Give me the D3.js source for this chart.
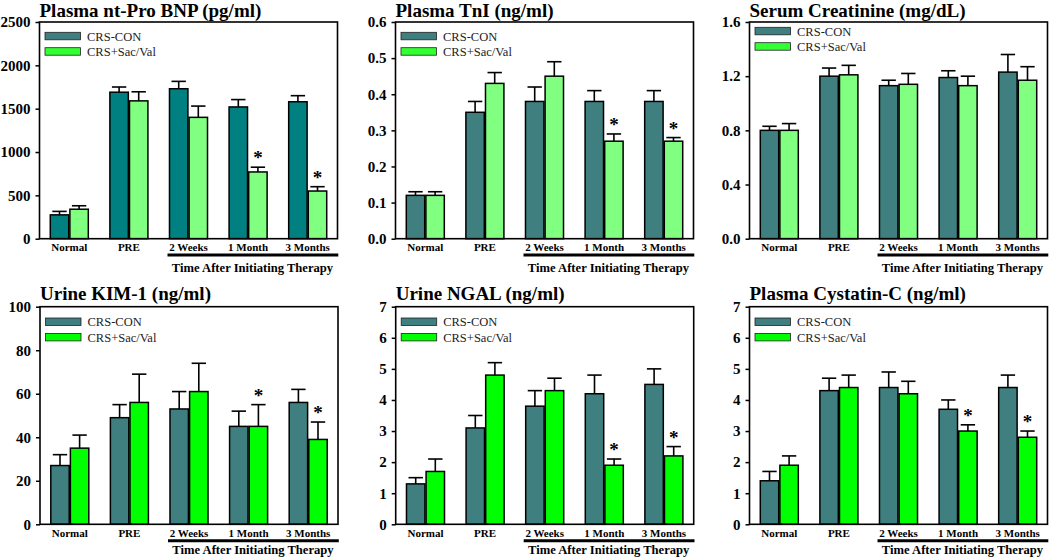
<!DOCTYPE html>
<html><head><meta charset="utf-8">
<script src="https://cdn.jsdelivr.net/npm/d3@7"></script>
<style>body{margin:0;background:#fff}svg{display:block}</style>
</head><body><svg id="chart" width="1050" height="559"></svg>
<script>
// ---------- data ----------
const categories = ["Normal", "PRE", "2 Weeks", "1 Month", "3 Months"];
const seriesNames = ["CRS-CON", "CRS+Sac/Val"];
const therapyLabel = "Time After Initiating Therapy";

const bnpCon = [275, 1690, 1730, 1520, 1580];
const bnpConErr = [40, 60, 85, 85, 70];
const bnpSac = [340, 1590, 1400, 770, 550];
const bnpSacErr = [40, 105, 130, 55, 50];
const bnpSig = [0, 0, 0, 1, 1];
const bnpTicks = [0, 500, 1000, 1500, 2000, 2500];

const tniCon = [0.12, 0.35, 0.38, 0.38, 0.38];
const tniConErr = [0.01, 0.03, 0.04, 0.03, 0.03];
const tniSac = [0.12, 0.43, 0.45, 0.27, 0.27];
const tniSacErr = [0.01, 0.03, 0.04, 0.02, 0.01];
const tniSig = [0, 0, 0, 1, 1];
const tniTicks = [0.0, 0.1, 0.2, 0.3, 0.4, 0.5, 0.6];

const creCon = [0.80, 1.20, 1.13, 1.19, 1.23];
const creConErr = [0.03, 0.06, 0.04, 0.05, 0.13];
const creSac = [0.80, 1.21, 1.14, 1.13, 1.17];
const creSacErr = [0.05, 0.07, 0.08, 0.07, 0.10];
const creSig = [0, 0, 0, 0, 0];
const creTicks = [0.0, 0.4, 0.8, 1.2, 1.6];

const kimCon = [27, 49, 53, 45, 56];
const kimConErr = [5, 6, 8, 7, 6];
const kimSac = [35, 56, 61, 45, 39];
const kimSacErr = [6, 13, 13, 10, 8];
const kimSig = [0, 0, 0, 1, 1];
const kimTicks = [0, 20, 40, 60, 80, 100];

const ngalCon = [1.3, 3.1, 3.8, 4.2, 4.5];
const ngalConErr = [0.2, 0.4, 0.5, 0.6, 0.5];
const ngalSac = [1.7, 4.8, 4.3, 1.9, 2.2];
const ngalSacErr = [0.4, 0.4, 0.4, 0.2, 0.3];
const ngalSig = [0, 0, 0, 1, 1];
const ngalTicks = [0, 1, 2, 3, 4, 5, 6, 7];

const cysCon = [1.4, 4.3, 4.4, 3.7, 4.4];
const cysConErr = [0.3, 0.4, 0.5, 0.3, 0.4];
const cysSac = [1.9, 4.4, 4.2, 3.0, 2.8];
const cysSacErr = [0.3, 0.4, 0.4, 0.2, 0.2];
const cysSig = [0, 0, 0, 1, 1];
const cysTicks = [0, 1, 2, 3, 4, 5, 6, 7];

const titles = ["Plasma nt-Pro BNP (pg/ml)", "Plasma TnI (ng/ml)", "Serum Creatinine (mg/dL)",
                "Urine KIM-1 (ng/ml)", "Urine NGAL (ng/ml)", "Plasma Cystatin-C (ng/ml)"];

// ---------- panel setup ----------
const FONT = "'Liberation Serif','Times New Roman',Times,serif";
const panels = [
  {title: titles[0], con: bnpCon, conErr: bnpConErr, sac: bnpSac, sacErr: bnpSacErr, sig: bnpSig, ticks: bnpTicks, fmt: d3.format("d"),
   x: 39.5, y: 22, h: 216.7, conColor: "#008080", conLeg: "#3f7f7f", sacColor: "#80ff80", sacLeg: "#33ff33", legDy: 0, tDy: 33},
  {title: titles[1], con: tniCon, conErr: tniConErr, sac: tniSac, sacErr: tniSacErr, sig: tniSig, ticks: tniTicks, fmt: d3.format(".1f"),
   x: 395.5, y: 22, h: 216.7, conColor: "#3f7f7f", conLeg: "#3f7f7f", sacColor: "#80ff80", sacLeg: "#33ff33", legDy: 0, tDy: 33},
  {title: titles[2], con: creCon, conErr: creConErr, sac: creSac, sacErr: creSacErr, sig: creSig, ticks: creTicks, fmt: d3.format(".1f"),
   x: 749.5, y: 22, h: 216.7, conColor: "#3f7f7f", conLeg: "#3f7f7f", sacColor: "#80ff80", sacLeg: "#33ff33", legDy: -5, tDy: 33},
  {title: titles[3], con: kimCon, conErr: kimConErr, sac: kimSac, sacErr: kimSacErr, sig: kimSig, ticks: kimTicks, fmt: d3.format("d"),
   x: 40, y: 306.7, h: 217.6, conColor: "#3f7f7f", conLeg: "#3f7f7f", sacColor: "#00ff00", sacLeg: "#00ff00", legDy: 1, tDy: 30.2},
  {title: titles[4], con: ngalCon, conErr: ngalConErr, sac: ngalSac, sacErr: ngalSacErr, sig: ngalSig, ticks: ngalTicks, fmt: d3.format("d"),
   x: 395.7, y: 306.7, h: 217.6, conColor: "#3f7f7f", conLeg: "#3f7f7f", sacColor: "#00ff00", sacLeg: "#00ff00", legDy: 1, tDy: 30.2},
  {title: titles[5], con: cysCon, conErr: cysConErr, sac: cysSac, sacErr: cysSacErr, sig: cysSig, ticks: cysTicks, fmt: d3.format("d"),
   x: 749.5, y: 306.7, h: 217.6, conColor: "#3f7f7f", conLeg: "#3f7f7f", sacColor: "#00ff00", sacLeg: "#00ff00", legDy: 1, tDy: 30.2}
];
const W = 298;

const svg = d3.select("#chart");

panels.forEach(p => {
  const g = svg.append("g").attr("transform", `translate(${p.x},${p.y})`);
  const h = p.h;
  const y = d3.scaleLinear().domain([0, d3.max(p.ticks)]).range([h, 0]);
  const x0 = d3.scaleBand().domain(categories).range([0, W]).paddingInner(0.362).paddingOuter(0.181);
  const x1 = d3.scaleBand().domain([0, 1]).range([0, x0.bandwidth()]).paddingInner(0.06);

  const rows = categories.map((c, i) => ({
    cat: c,
    vals: [
      {s: 0, v: p.con[i], e: p.conErr[i], sig: 0, color: p.conColor},
      {s: 1, v: p.sac[i], e: p.sacErr[i], sig: p.sig[i], color: p.sacColor}
    ]
  }));

  const grp = g.selectAll("g.grp").data(rows).join("g")
    .attr("class", "grp")
    .attr("transform", d => `translate(${x0(d.cat)},0)`);

  const bw = x1.bandwidth();
  const capW = bw * 0.78;

  grp.selectAll("line.err").data(d => d.vals).join("line")
    .attr("x1", d => x1(d.s) + bw / 2).attr("x2", d => x1(d.s) + bw / 2)
    .attr("y1", d => y(d.v)).attr("y2", d => y(d.v + d.e))
    .attr("stroke", "#000").attr("stroke-width", 1.6);
  grp.selectAll("line.cap").data(d => d.vals).join("line")
    .attr("x1", d => x1(d.s) + bw / 2 - capW / 2).attr("x2", d => x1(d.s) + bw / 2 + capW / 2)
    .attr("y1", d => y(d.v + d.e)).attr("y2", d => y(d.v + d.e))
    .attr("stroke", "#000").attr("stroke-width", 1.6);

  grp.selectAll("rect").data(d => d.vals).join("rect")
    .attr("x", d => x1(d.s)).attr("width", bw)
    .attr("y", d => y(d.v)).attr("height", d => h - y(d.v))
    .attr("fill", d => d.color).attr("stroke", "#000").attr("stroke-width", 1.5);

  grp.selectAll("text.sig").data(d => d.vals.filter(v => v.sig)).join("text")
    .attr("class", "sig")
    .attr("x", d => x1(d.s) + bw / 2)
    .attr("y", d => y(d.v + d.e) - 3)
    .attr("text-anchor", "middle")
    .style("font", `bold 19px ${FONT}`)
    .text("*");

  g.append("rect").attr("x", 0).attr("y", 0).attr("width", W).attr("height", h)
    .attr("fill", "none").attr("stroke", "#000").attr("stroke-width", 1.6);

  const ya = g.append("g").call(d3.axisLeft(y).tickValues(p.ticks).tickFormat(p.fmt).tickSize(4).tickPadding(5));
  ya.select(".domain").remove();
  ya.selectAll(".tick line").attr("stroke", "#000").attr("stroke-width", 1.5);
  ya.selectAll("text").style("font", `bold 15px ${FONT}`).attr("fill", "#000");

  const xa = g.append("g").attr("transform", `translate(0,${h})`)
    .call(d3.axisBottom(x0).tickSize(0).tickPadding(4.5));
  xa.select(".domain").remove();
  xa.selectAll("text").style("font", `bold 11px ${FONT}`).attr("fill", "#000");

  const lx0 = x0("2 Weeks") + x0.bandwidth() / 2 - 21;
  g.append("line").attr("x1", lx0).attr("x2", W + 0.8).attr("y1", h + 16.4).attr("y2", h + 16.4)
    .attr("stroke", "#000").attr("stroke-width", 3);
  g.append("text").attr("x", (lx0 + W) / 2).attr("y", h + p.tDy)
    .attr("text-anchor", "middle").style("font", `bold 12.6px ${FONT}`).text(therapyLabel);

  const leg = g.append("g").attr("transform", `translate(5.5,${10.3 + p.legDy})`);
  const legColors = [p.conLeg, p.sacLeg];
  seriesNames.forEach((s, i) => {
    leg.append("rect").attr("x", 0).attr("y", i * 15.4).attr("width", 35.5).attr("height", 7.5)
      .attr("fill", legColors[i]).attr("stroke", "#222").attr("stroke-width", 0.8);
    leg.append("text").attr("x", 42).attr("y", i * 15.4 + 8.3)
      .style("font", `12.5px ${FONT}`).attr("fill", "#222").text(s);
  });

  g.append("text").attr("x", 0).attr("y", p.y < 50 ? -5 : -6.5)
    .style("font", `bold 19px ${FONT}`).attr("fill", "#000").text(p.title);
});
</script></body></html>
